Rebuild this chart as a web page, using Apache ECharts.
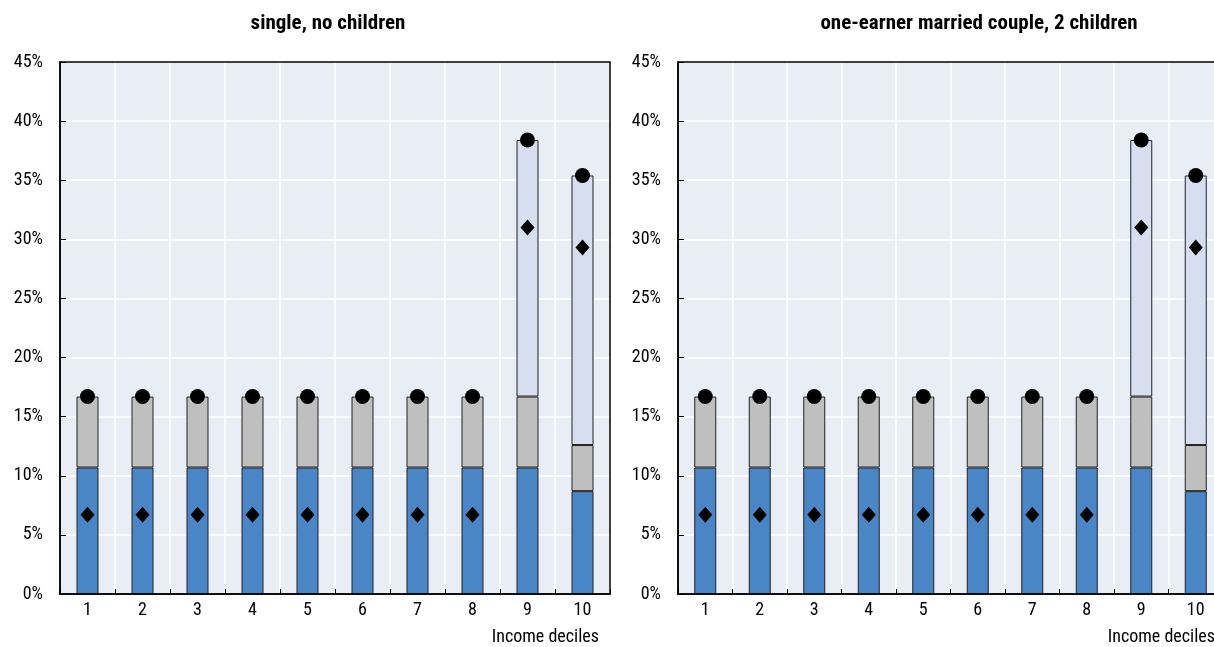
<!DOCTYPE html>
<html>
<head>
<meta charset="utf-8">
<script src="https://cdn.jsdelivr.net/npm/echarts@6/dist/echarts.min.js"></script>
<style>
  html, body { margin: 0; padding: 0; background: #fff; overflow: hidden; }
  #frame { width: 1214px; height: 647px; overflow: hidden; position: relative; }
  #chart { width: 1240px; height: 647px; position: absolute; left: 0; top: 0; }
</style>
</head>
<body>
<div id="frame"><div id="chart"></div></div>
<script>
// Income deciles on the x axis
const deciles = ['1', '2', '3', '4', '5', '6', '7', '8', '9', '10'];
const panelTitles = ['single, no children', 'one-earner married couple, 2 children'];

// Stacked bar components (percentage points)
const baseComponent = [10.7, 10.7, 10.7, 10.7, 10.7, 10.7, 10.7, 10.7, 10.7, 8.7];
const secondComponent = [6.0, 6.0, 6.0, 6.0, 6.0, 6.0, 6.0, 6.0, 6.0, 3.9];
const topComponent = [null, null, null, null, null, null, null, null, 21.7, 22.8];

// Markers
const totalRate = [16.7, 16.7, 16.7, 16.7, 16.7, 16.7, 16.7, 16.7, 38.4, 35.4];
const averageRate = [6.7, 6.7, 6.7, 6.7, 6.7, 6.7, 6.7, 6.7, 31.0, 29.3];

const yTicks = [0, 5, 10, 15, 20, 25, 30, 35, 40, 45];

const FONT = "'Liberation Sans Narrow', 'Arial Narrow', 'Roboto Condensed', 'Liberation Sans', sans-serif";
const COLORS = { base: '#4A86C6', second: '#BFBFBF', top: '#D6DEF0', plot: '#E9EDF6' };

// second panel runs past the right edge of the visible frame
const grids = [
  { left: 60, top: 62, width: 550, height: 532 },
  { left: 678, top: 62, width: 545, height: 532 }
];

const option = {
  animation: false,
  textStyle: { fontFamily: FONT },
  grid: grids.map(g => Object.assign({ show: true, backgroundColor: COLORS.plot, borderWidth: 0 }, g)),
  xAxis: grids.map((g, i) => ({
    type: 'category', gridIndex: i, data: deciles,
    axisLine: { lineStyle: { color: '#000', width: 1.5 } },
    axisTick: { show: true, inside: true, length: 5, lineStyle: { color: '#000' } },
    axisLabel: { color: '#000', fontSize: 18, fontFamily: FONT, margin: 7 },
    splitLine: { show: true, lineStyle: { color: '#fff', width: 1.5 } }
  })),
  yAxis: grids.map((g, i) => ({
    type: 'value', gridIndex: i, min: yTicks[0], max: yTicks[yTicks.length - 1], interval: 5,
    axisLine: { show: true, lineStyle: { color: '#000', width: 1.5 } },
    axisTick: { show: true, inside: true, length: 6, lineStyle: { color: '#000' } },
    axisLabel: { color: '#000', fontSize: 18, fontFamily: FONT, margin: 17, formatter: v => v + '%' },
    splitLine: { show: true, lineStyle: { color: '#fff', width: 1.5 } }
  })),
  series: [],
  graphic: []
};

grids.forEach((g, i) => {
  const barBase = { type: 'bar', xAxisIndex: i, yAxisIndex: i, stack: 'total' + i, barWidth: 22 };
  option.series.push(
    Object.assign({}, barBase, { name: 'base', data: baseComponent,
      itemStyle: { color: COLORS.base, borderColor: '#222', borderWidth: 1 } }),
    Object.assign({}, barBase, { name: 'second', data: secondComponent,
      itemStyle: { color: COLORS.second, borderColor: '#222', borderWidth: 1 } }),
    Object.assign({}, barBase, { name: 'top', data: topComponent,
      itemStyle: { color: COLORS.top, borderColor: '#222', borderWidth: 1 } }),
    { type: 'scatter', xAxisIndex: i, yAxisIndex: i, data: totalRate, symbol: 'circle', symbolSize: 15,
      itemStyle: { color: '#000', opacity: 1 }, z: 5 },
    { type: 'scatter', xAxisIndex: i, yAxisIndex: i, data: averageRate, symbol: 'diamond', symbolSize: [14, 16],
      itemStyle: { color: '#000', opacity: 1 }, z: 5 }
  );
  // black frame round the plot area
  option.graphic.push({
    type: 'rect', z: 100, silent: true,
    shape: { x: g.left, y: g.top, width: g.width, height: g.height },
    style: { fill: null, stroke: '#000', lineWidth: 1.5 }
  });
});

option.graphic.push(
  { type: 'text', x: 328, y: 24, z: 100, style: { text: panelTitles[0], font: 'bold 21px ' + FONT, fill: '#000', align: 'center', verticalAlign: 'middle' } },
  { type: 'text', x: 979, y: 24, z: 100, style: { text: panelTitles[1], font: 'bold 21px ' + FONT, fill: '#000', align: 'center', verticalAlign: 'middle' } },
  { type: 'text', x: 599, y: 637, z: 100, style: { text: 'Income deciles', font: '18px ' + FONT, fill: '#000', align: 'right', verticalAlign: 'middle' } },
  { type: 'text', x: 1215, y: 637, z: 100, style: { text: 'Income deciles', font: '18px ' + FONT, fill: '#000', align: 'right', verticalAlign: 'middle' } }
);

const chart = echarts.init(document.getElementById('chart'), null, { renderer: 'canvas' });
chart.setOption(option);
</script>
</body>
</html>
